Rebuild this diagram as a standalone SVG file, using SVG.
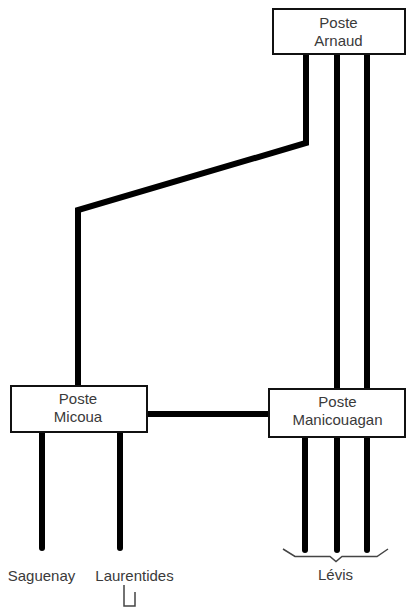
<svg xmlns="http://www.w3.org/2000/svg" width="407" height="608" viewBox="0 0 407 608">
<style>
.box{fill:#fff;stroke:#111;stroke-width:2}
.lbl{font-family:"Liberation Sans",Arial,sans-serif;font-size:15px;fill:#3a3a3a;text-anchor:middle}
.wire{fill:none;stroke:#000;stroke-width:6}
.wr{fill:none;stroke:#000;stroke-width:6;stroke-linecap:round}
.thin{fill:none;stroke:#444;stroke-width:1.5}
</style>
<rect width="407" height="608" fill="#fff"/>
<g id="connectors">
<path class="wire" d="M306,55 V143 L78,210 V385"/>
<line class="wire" x1="337" y1="55" x2="337" y2="388"/>
<line class="wire" x1="367" y1="55" x2="367" y2="388"/>
<line class="wire" x1="147" y1="414" x2="269" y2="414"/>
<circle cx="147" cy="414" r="3" fill="#000"/>
<path class="wr" d="M42,433 V548"/>
<path class="wr" d="M120,433 V548"/>
<circle cx="120" cy="432" r="3" fill="#000"/>
<path class="wr" d="M305,438 V550"/>
<path class="wr" d="M337,438 V550"/>
<path class="wr" d="M367,438 V550"/>
</g>
<g id="arnaud">
<rect class="box" x="273" y="9" width="132" height="45"/>
<text class="lbl" x="338.5" y="28">Poste</text>
<text class="lbl" x="338.5" y="45.5">Arnaud</text>
</g>
<g id="micoua">
<rect class="box" x="11" y="386" width="136" height="46"/>
<text class="lbl" x="78" y="404">Poste</text>
<text class="lbl" x="78" y="421.5">Micoua</text>
</g>
<g id="manicouagan">
<rect class="box" x="269" y="389" width="136" height="48"/>
<text class="lbl" x="337.5" y="406.5">Poste</text>
<text class="lbl" x="337.5" y="424.5">Manicouagan</text>
</g>
<g id="saguenay">
<text class="lbl" x="41.5" y="581">Saguenay</text>
</g>
<g id="laurentides">
<text class="lbl" x="134.5" y="581">Laurentides</text>
<path class="thin" d="M124,585 V606 H135 V592" stroke-width="1.2"/>
</g>
<g id="levis">
<path class="thin" d="M283,549 L295,556.5 H330 L336,561.5 L342,556.5 H377 L388,549"/>
<text class="lbl" x="335.5" y="580">Lévis</text>
</g>
</svg>
